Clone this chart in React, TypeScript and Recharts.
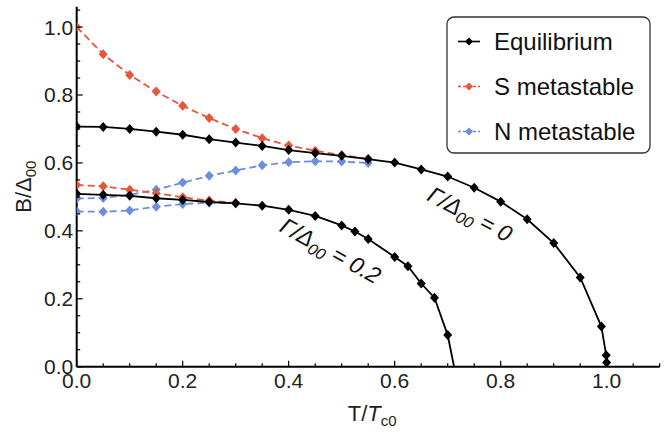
import React from 'react'
import { LineChart, Line, XAxis, YAxis, ReferenceDot, Label } from 'recharts'

// temperatures / gaps
const eq0T = [0, 0.05, 0.1, 0.15, 0.2, 0.25, 0.3, 0.35, 0.4, 0.45, 0.5, 0.55, 0.6, 0.65, 0.7, 0.75, 0.8, 0.85, 0.9, 0.95, 0.99, 0.999, 0.9999]
const eq0B = [0.707, 0.706, 0.7, 0.692, 0.683, 0.67, 0.66, 0.65, 0.638, 0.629, 0.621, 0.611, 0.601, 0.581, 0.56, 0.527, 0.486, 0.434, 0.364, 0.263, 0.118, 0.034, 0.012]

const meta0T = [0, 0.05, 0.1, 0.15, 0.2, 0.25, 0.3, 0.35, 0.4, 0.45, 0.5, 0.55]
const s0B = [1.0, 0.92, 0.859, 0.81, 0.768, 0.732, 0.7, 0.673, 0.651, 0.636, 0.623, 0.612]
const n0B = [0.495, 0.497, 0.506, 0.521, 0.542, 0.562, 0.578, 0.593, 0.602, 0.605, 0.604, 0.6]

const eq2T = [0, 0.05, 0.1, 0.15, 0.2, 0.25, 0.3, 0.35, 0.4, 0.45, 0.5, 0.525, 0.55, 0.6, 0.625, 0.65, 0.675, 0.7, 0.712]
const eq2B = [0.509, 0.506, 0.503, 0.496, 0.491, 0.485, 0.481, 0.474, 0.462, 0.444, 0.416, 0.398, 0.376, 0.323, 0.296, 0.245, 0.203, 0.093, 0]

const meta2T = [0, 0.05, 0.1, 0.15, 0.2, 0.25, 0.3]
const s2B = [0.535, 0.531, 0.521, 0.511, 0.499, 0.489, 0.482]
const n2B = [0.457, 0.456, 0.46, 0.471, 0.479, 0.483, 0.481]

const xTicks = [0, 0.05, 0.1, 0.15, 0.2, 0.25, 0.3, 0.35, 0.4, 0.45, 0.5, 0.55, 0.6, 0.65, 0.7, 0.75, 0.8, 0.85, 0.9, 0.95, 1.0, 1.05, 1.1]
const yTicks = [0, 0.05, 0.1, 0.15, 0.2, 0.25, 0.3, 0.35, 0.4, 0.45, 0.5, 0.55, 0.6, 0.65, 0.7, 0.75, 0.8, 0.85, 0.9, 0.95, 1.0, 1.05]

const FONT = '"Liberation Sans", Arial, Helvetica, sans-serif'
const BLACK = '#000000'
const RED = '#E5563A'
const BLUE = '#6B8EDF'

const zip = (ts: number[], bs: number[]) => ts.map((t, i) => ({ t, b: bs[i] }))

const isMajor = (v: number) => Math.abs(v * 5 - Math.round(v * 5)) < 1e-6
const MARGIN_X = 6.6
const MARGIN_Y = 3.5

function diamond(color: string, rx: number, ry: number) {
  return (props: any) => {
    const { cx, cy, payload, index } = props
    if (cx == null || cy == null || payload.b === 0) return <g key={'d' + index} />
    return <path key={'d' + index} d={`M${cx},${cy - ry}L${cx + rx},${cy}L${cx},${cy + ry}L${cx - rx},${cy}Z`} fill={color} />
  }
}

const BottomTick = (props: any) => {
  const { x, y, payload } = props
  const v = payload.value
  const y0 = y - MARGIN_X
  const major = isMajor(v)
  return (
    <g>
      <line x1={x} x2={x} y1={y0} y2={y0 - (major ? 6 : 3.5)} stroke={BLACK} strokeWidth={1.2} />
      {major && v <= 1.0001 && (
        <text x={x} y={y} dy="0.71em" textAnchor="middle" fontSize={21} fontFamily={FONT} fill="#222">
          {v.toFixed(1)}
        </text>
      )}
    </g>
  )
}

const TopTick = (props: any) => {
  const { x, y, payload } = props
  const y0 = y + MARGIN_X
  return <line x1={x} x2={x} y1={y0} y2={y0 + (isMajor(payload.value) ? 6 : 3.5)} stroke={BLACK} strokeWidth={1.2} />
}

const LeftTick = (props: any) => {
  const { x, y, payload } = props
  const v = payload.value
  const x0 = x + MARGIN_Y
  const major = isMajor(v)
  return (
    <g>
      <line x1={x0} x2={x0 + (major ? 6 : 3.5)} y1={y} y2={y} stroke={BLACK} strokeWidth={1.2} />
      {major && (
        <text x={x} y={y} dy="0.355em" textAnchor="end" fontSize={21} fontFamily={FONT} fill="#222">
          {v.toFixed(1)}
        </text>
      )}
    </g>
  )
}

const RightTick = (props: any) => {
  const { x, y, payload } = props
  const x0 = x - MARGIN_Y
  return <line x1={x0} x2={x0 - (isMajor(payload.value) ? 6 : 3.5)} y1={y} y2={y} stroke={BLACK} strokeWidth={1.2} />
}

function gammaLabel(value: string, angle: number) {
  return (props: any) => {
    const vb = props.viewBox || {}
    const cx = vb.x + (vb.width || 0) / 2
    const cy = vb.y + (vb.height || 0) / 2
    return (
      <text
        transform={`translate(${cx},${cy}) rotate(${angle})`}
        textAnchor="middle"
        dy="0.35em"
        fontSize={23}
        fontStyle="italic"
        fontFamily={FONT}
        fill="#111"
      >
        Γ/Δ<tspan fontSize={16} dy={5}>00</tspan>
        <tspan dy={-5}>{' = ' + value}</tspan>
      </text>
    )
  }
}

const legendItems = [
  { name: 'Equilibrium', color: BLACK, dash: undefined as string | undefined },
  { name: 'S metastable', color: RED, dash: '3 2' },
  { name: 'N metastable', color: BLUE, dash: '3 2' }
]

function LegendBox() {
  return (
    <svg width={206} height={139} style={{ position: 'absolute', left: 446, top: 16 }}>
      <rect x={1} y={1} width={203} height={136} rx={7} ry={7} fill="#fff" stroke="#333" strokeWidth={1.3} />
      {legendItems.map((it, i) => {
        const cy = 25.5 + i * 45
        return (
          <g key={it.name}>
            <line x1={12} x2={34} y1={cy} y2={cy} stroke={it.color} strokeWidth={1.6} strokeDasharray={it.dash} />
            <path d={`M23,${cy - 4}L27,${cy}L23,${cy + 4}L19,${cy}Z`} fill={it.color} />
            <text x={48} y={cy} dy="0.36em" fontSize={24} fontFamily={FONT} fill="#111">
              {it.name}
            </text>
          </g>
        )
      })}
    </svg>
  )
}

export default function App() {
  const eq0 = zip(eq0T, eq0B)
  const eq2 = zip(eq2T, eq2B)
  const s0 = zip(meta0T, s0B)
  const n0 = zip(meta0T, n0B)
  const s2 = zip(meta2T, s2B)
  const n2 = zip(meta2T, n2B)

  const axisLine = { stroke: BLACK, strokeWidth: 2 }

  return (
    <div style={{ position: 'absolute', left: 0, top: 0, width: 670, height: 433, background: '#fff' }}>
      <LineChart width={670} height={433} margin={{ top: 6.7, right: 10.3, bottom: 0, left: 0 }}>
        <XAxis
          xAxisId="b"
          type="number"
          dataKey="t"
          domain={[0, 1.1]}
          allowDataOverflow
          ticks={xTicks}
          interval={0}
          tickSize={0}
          tickMargin={MARGIN_X}
          tickLine={false}
          tick={<BottomTick />}
          axisLine={axisLine}
          height={66.3}
        >
          <Label
            content={(p: any) => {
              const vb = p.viewBox
              return (
                <text x={vb.x + vb.width / 2 + 4} y={421} textAnchor="middle" fontSize={22} fontFamily={FONT} fill="#222">
                  T/<tspan fontStyle="italic">T</tspan>
                  <tspan fontSize={15} dy={5}>c0</tspan>
                </text>
              )
            }}
          />
        </XAxis>
        <XAxis
          xAxisId="t"
          orientation="top"
          type="number"
          dataKey="t"
          domain={[0, 1.1]}
          allowDataOverflow
          ticks={xTicks}
          interval={0}
          tickSize={0}
          tickMargin={MARGIN_X}
          tickLine={false}
          tick={<TopTick />}
          axisLine={axisLine}
          height={0}
        />
        <YAxis
          yAxisId="l"
          type="number"
          domain={[0, 1.06]}
          allowDataOverflow
          ticks={yTicks}
          interval={0}
          tickSize={0}
          tickMargin={MARGIN_Y}
          tickLine={false}
          tick={<LeftTick />}
          axisLine={axisLine}
          width={76.7}
        >
          <Label
            content={(p: any) => {
              const vb = p.viewBox
              const cy = vb.y + vb.height / 2
              return (
                <text transform={`translate(23,${cy}) rotate(-90)`} textAnchor="middle" dy="0.35em" fontSize={22} fontFamily={FONT} fill="#222">
                  B/Δ<tspan fontSize={15} dy={5}>00</tspan>
                </text>
              )
            }}
          />
        </YAxis>
        <YAxis
          yAxisId="r"
          orientation="right"
          type="number"
          domain={[0, 1.06]}
          allowDataOverflow
          ticks={yTicks}
          interval={0}
          tickSize={0}
          tickMargin={MARGIN_Y}
          tickLine={false}
          tick={<RightTick />}
          axisLine={axisLine}
          width={0}
        />

        <Line xAxisId="b" yAxisId="l" data={n0} dataKey="b" type="linear" stroke={BLUE} strokeWidth={1.8} strokeDasharray="7 4" dot={diamond(BLUE, 4.5, 5)} activeDot={false} isAnimationActive={false} />
        <Line xAxisId="b" yAxisId="l" data={n2} dataKey="b" type="linear" stroke={BLUE} strokeWidth={1.8} strokeDasharray="7 4" dot={diamond(BLUE, 4.5, 5)} activeDot={false} isAnimationActive={false} />
        <Line xAxisId="b" yAxisId="l" data={s0} dataKey="b" type="linear" stroke={RED} strokeWidth={1.8} strokeDasharray="7 4" dot={diamond(RED, 4.5, 5)} activeDot={false} isAnimationActive={false} />
        <Line xAxisId="b" yAxisId="l" data={s2} dataKey="b" type="linear" stroke={RED} strokeWidth={1.8} strokeDasharray="7 4" dot={diamond(RED, 4.5, 5)} activeDot={false} isAnimationActive={false} />
        <Line xAxisId="b" yAxisId="l" data={eq0} dataKey="b" type="linear" stroke={BLACK} strokeWidth={1.8} dot={diamond(BLACK, 4.5, 5)} activeDot={false} isAnimationActive={false} />
        <Line xAxisId="b" yAxisId="l" data={eq2} dataKey="b" type="linear" stroke={BLACK} strokeWidth={1.8} dot={diamond(BLACK, 4.5, 5)} activeDot={false} isAnimationActive={false} />

        <ReferenceDot xAxisId="b" yAxisId="l" x={0.742} y={0.449} r={0} fill="none" stroke="none" label={{ content: gammaLabel('0', 28) }} />
        <ReferenceDot xAxisId="b" yAxisId="l" x={0.479} y={0.342} r={0} fill="none" stroke="none" label={{ content: gammaLabel('0.2', 29) }} />
      </LineChart>
      <LegendBox />
    </div>
  )
}
